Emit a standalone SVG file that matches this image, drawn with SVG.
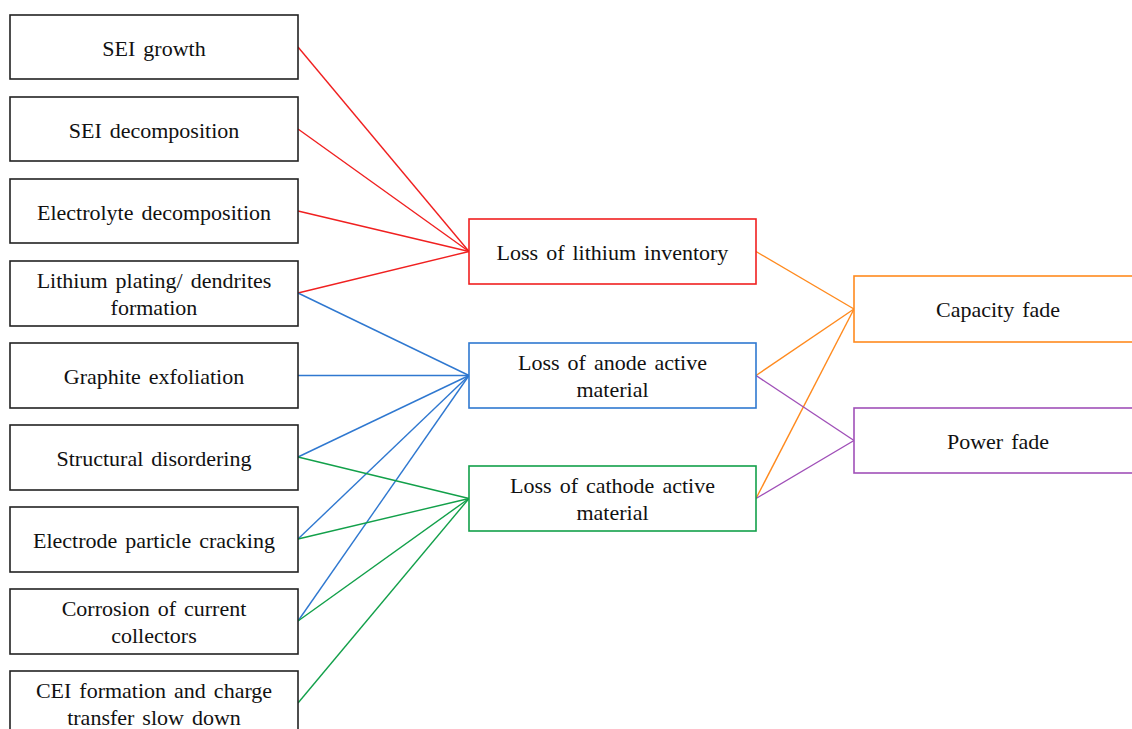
<svg xmlns="http://www.w3.org/2000/svg" width="1132" height="729" viewBox="0 0 1132 729">
<style>
text{font-family:"Liberation Serif","Times New Roman",serif;font-size:22px;fill:#111;text-anchor:middle;word-spacing:2.5px}
.b{fill:#fff;stroke:#222;stroke-width:1.6}
.c line{stroke-width:1.4}
.red{stroke:#f02020}
.blue{stroke:#2f78d0}
.green{stroke:#12a04a}
.orange{stroke:#ff8a1e}
.purple{stroke:#a050b8}
</style>
<rect width="1132" height="729" fill="#fff"/>
<g id="connectors" class="c">
<line class="red" x1="298" y1="47" x2="469" y2="251.5"/>
<line class="red" x1="298" y1="129" x2="469" y2="251.5"/>
<line class="red" x1="298" y1="211" x2="469" y2="251.5"/>
<line class="red" x1="298" y1="293" x2="469" y2="251.5"/>
<line class="blue" x1="298" y1="293" x2="469" y2="375.5"/>
<line class="blue" x1="298" y1="375.5" x2="469" y2="375.5"/>
<line class="blue" x1="298" y1="457" x2="469" y2="375.5"/>
<line class="blue" x1="298" y1="539" x2="469" y2="375.5"/>
<line class="blue" x1="298" y1="621" x2="469" y2="375.5"/>
<line class="green" x1="298" y1="457" x2="469" y2="498.5"/>
<line class="green" x1="298" y1="539" x2="469" y2="498.5"/>
<line class="green" x1="298" y1="621" x2="469" y2="498.5"/>
<line class="green" x1="298" y1="703" x2="469" y2="498.5"/>
<line class="orange" x1="756" y1="251.5" x2="854" y2="309"/>
<line class="orange" x1="756" y1="375.5" x2="854" y2="309"/>
<line class="orange" x1="756" y1="498.5" x2="854" y2="309"/>
<line class="purple" x1="756" y1="375.5" x2="854" y2="440.5"/>
<line class="purple" x1="756" y1="498.5" x2="854" y2="440.5"/>
</g>
<g id="sei-growth"><rect class="b" x="10" y="15" width="288" height="64"/><text x="154" y="56">SEI growth</text></g>
<g id="sei-decomposition"><rect class="b" x="10" y="97" width="288" height="64"/><text x="154" y="138">SEI decomposition</text></g>
<g id="electrolyte-decomposition"><rect class="b" x="10" y="179" width="288" height="64"/><text x="154" y="220">Electrolyte decomposition</text></g>
<g id="lithium-plating"><rect class="b" x="10" y="261" width="288" height="65"/><text x="154" y="288">Lithium plating/ dendrites</text><text x="154" y="315">formation</text></g>
<g id="graphite-exfoliation"><rect class="b" x="10" y="343" width="288" height="65"/><text x="154" y="384">Graphite exfoliation</text></g>
<g id="structural-disordering"><rect class="b" x="10" y="425" width="288" height="65"/><text x="154" y="466">Structural disordering</text></g>
<g id="electrode-cracking"><rect class="b" x="10" y="507" width="288" height="65"/><text x="154" y="548">Electrode particle cracking</text></g>
<g id="corrosion"><rect class="b" x="10" y="589" width="288" height="65"/><text x="154" y="616">Corrosion of current</text><text x="154" y="643">collectors</text></g>
<g id="cei-formation"><rect class="b" x="10" y="671" width="288" height="65"/><text x="154" y="698">CEI formation and charge</text><text x="154" y="725">transfer slow down</text></g>
<g id="loss-lithium"><rect class="b red" x="469" y="219" width="287" height="65"/><text x="612.5" y="260">Loss of lithium inventory</text></g>
<g id="loss-anode"><rect class="b blue" x="469" y="343" width="287" height="65"/><text x="612.5" y="370">Loss of anode active</text><text x="612.5" y="397">material</text></g>
<g id="loss-cathode"><rect class="b green" x="469" y="466" width="287" height="65"/><text x="612.5" y="493">Loss of cathode active</text><text x="612.5" y="520">material</text></g>
<g id="capacity-fade"><rect class="b orange" x="854" y="276" width="288" height="66"/><text x="998" y="317">Capacity fade</text></g>
<g id="power-fade"><rect class="b purple" x="854" y="408" width="288" height="65"/><text x="998" y="449">Power fade</text></g>
</svg>
